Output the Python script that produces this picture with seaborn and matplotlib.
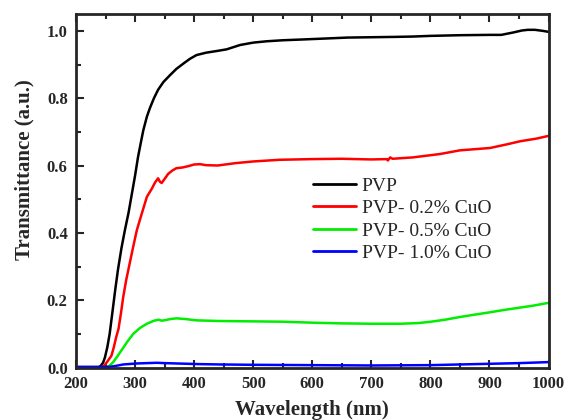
import numpy as np
import pandas as pd
import matplotlib
matplotlib.use("Agg")
import matplotlib.pyplot as plt
from matplotlib.ticker import MultipleLocator
import seaborn as sns

# ---- data ----
series_names = ["PVP", "PVP- 0.2% CuO", "PVP- 0.5% CuO", "PVP- 1.0% CuO"]
series_colors = ["#000000", "#ff0000", "#00ee00", "#0000ff"]

pvp_wl = [200, 230, 238, 242, 246, 249, 253, 257, 261, 266, 271, 277, 283, 289, 295, 300, 305, 310, 314, 320,
          325, 332, 339, 348, 359, 370, 382, 393, 404, 420, 438, 455, 478, 500, 523, 550, 579, 620, 660, 700,
          740, 770, 800, 850, 900, 920, 940, 955, 965, 977, 990, 1000]
pvp_t = [0.0, 0.0, 0.0, 0.005, 0.015, 0.03, 0.06, 0.10, 0.155, 0.225, 0.29, 0.355, 0.41, 0.46, 0.52, 0.57, 0.625, 0.67, 0.705, 0.745,
         0.77, 0.80, 0.825, 0.848, 0.868, 0.887, 0.903, 0.917, 0.928, 0.935, 0.940, 0.945, 0.958, 0.965, 0.969, 0.972, 0.974, 0.977, 0.980, 0.981,
         0.982, 0.983, 0.985, 0.987, 0.988, 0.988, 0.995, 1.001, 1.003, 1.003, 1.0, 0.997]

cuo02_wl = [200, 240, 245, 249, 254, 260, 264, 268, 272, 276, 280, 285, 291, 297, 303, 311, 320, 328, 334, 339,
            342, 345, 350, 356, 363, 370, 380, 390, 400, 410, 420, 440, 470, 500, 545, 600, 650, 700, 726, 728,
            732, 736, 770, 816, 850, 901, 930, 952, 980, 1000]
cuo02_t = [0.0, 0.0, 0.002, 0.008, 0.02, 0.035, 0.06, 0.09, 0.115, 0.16, 0.21, 0.26, 0.31, 0.36, 0.408, 0.455, 0.507, 0.53, 0.55, 0.562,
           0.552, 0.548, 0.56, 0.575, 0.585, 0.592, 0.594, 0.598, 0.603, 0.604, 0.601, 0.600, 0.607, 0.612, 0.617, 0.619, 0.620, 0.618, 0.619, 0.615,
           0.624, 0.620, 0.624, 0.634, 0.645, 0.652, 0.663, 0.672, 0.680, 0.688]

cuo05_wl = [200, 250, 256, 263, 270, 277, 287, 297, 308, 320, 332, 340, 345, 352, 360, 370, 385, 404, 444, 500,
            550, 602, 650, 700, 750, 780, 801, 825, 850, 875, 901, 925, 952, 975, 1000]
cuo05_t = [0.0, 0.0, 0.004, 0.016, 0.033, 0.051, 0.077, 0.100, 0.117, 0.130, 0.139, 0.142, 0.139, 0.141, 0.144, 0.146, 0.144, 0.140, 0.138, 0.137,
           0.136, 0.133, 0.131, 0.130, 0.130, 0.132, 0.136, 0.142, 0.150, 0.157, 0.164, 0.171, 0.178, 0.184, 0.192]

cuo10_wl = [200, 250, 257, 268, 280, 303, 320, 337, 350, 370, 410, 445, 500, 600, 700, 800, 850, 900, 950, 1000]
cuo10_t = [0.002, 0.002, 0.002, 0.005, 0.009, 0.012, 0.013, 0.014, 0.013, 0.012, 0.010, 0.009, 0.008, 0.007, 0.006, 0.007, 0.009, 0.011, 0.013, 0.016]

x_ticks = [200, 300, 400, 500, 600, 700, 800, 900, 1000]
y_ticks = [0.0, 0.2, 0.4, 0.6, 0.8, 1.0]

frames = []
for name, wl, t in zip(series_names,
                       [pvp_wl, cuo02_wl, cuo05_wl, cuo10_wl],
                       [pvp_t, cuo02_t, cuo05_t, cuo10_t]):
    frames.append(pd.DataFrame({"Wavelength": wl, "Transmittance": t, "Sample": name}))
df = pd.concat(frames, ignore_index=True)

sns.set_style("ticks")
plt.rcParams["font.family"] = ["Liberation Serif", "DejaVu Serif"]

fig = plt.figure(figsize=(5.65, 4.2), dpi=100)
ax = fig.add_axes([76 / 565, 1 - 367.5 / 420, (548.5 - 76) / 565, (367.5 - 14) / 420])

sns.lineplot(data=df, x="Wavelength", y="Transmittance", hue="Sample",
             hue_order=series_names, palette=series_colors, estimator=None,
             sort=True, linewidth=1.8, ax=ax)

ax.set_xlim(200, 1000)
ax.set_ylim(0, 1.05)
ax.set_xticks(x_ticks)
ax.set_yticks(y_ticks)
ax.set_xticklabels([str(v) for v in x_ticks])
ax.set_yticklabels([f"{v:.1f}" for v in y_ticks])
ax.xaxis.set_minor_locator(MultipleLocator(50))
ax.yaxis.set_minor_locator(MultipleLocator(0.1))

ax.tick_params(axis="both", which="major", direction="in", length=5.5, width=1.5,
               labelsize=12, pad=6, top=True, right=False)
ax.tick_params(axis="both", which="minor", direction="in", length=3.5, width=1.5,
               top=True, right=False)
for lab in ax.get_xticklabels() + ax.get_yticklabels():
    lab.set_fontweight("bold")

for sp in ax.spines.values():
    sp.set_linewidth(2.0)
    sp.set_visible(True)

ax.set_xlabel("Wavelength (nm)", fontsize=15, fontweight="bold", labelpad=6)
ax.set_ylabel("Transmittance (a.u.)", fontsize=15, fontweight="bold")
ax.yaxis.set_label_coords(-0.088, 0.56)

leg = ax.legend(loc="upper left", bbox_to_anchor=(0.5016, 0.539), frameon=False,
                fontsize=14, handlelength=2.2, handletextpad=0.3, labelspacing=0.25,
                borderpad=0, borderaxespad=0)
for line in leg.get_lines():
    line.set_linewidth(2.0)

fig.savefig("out.png", dpi=100)
